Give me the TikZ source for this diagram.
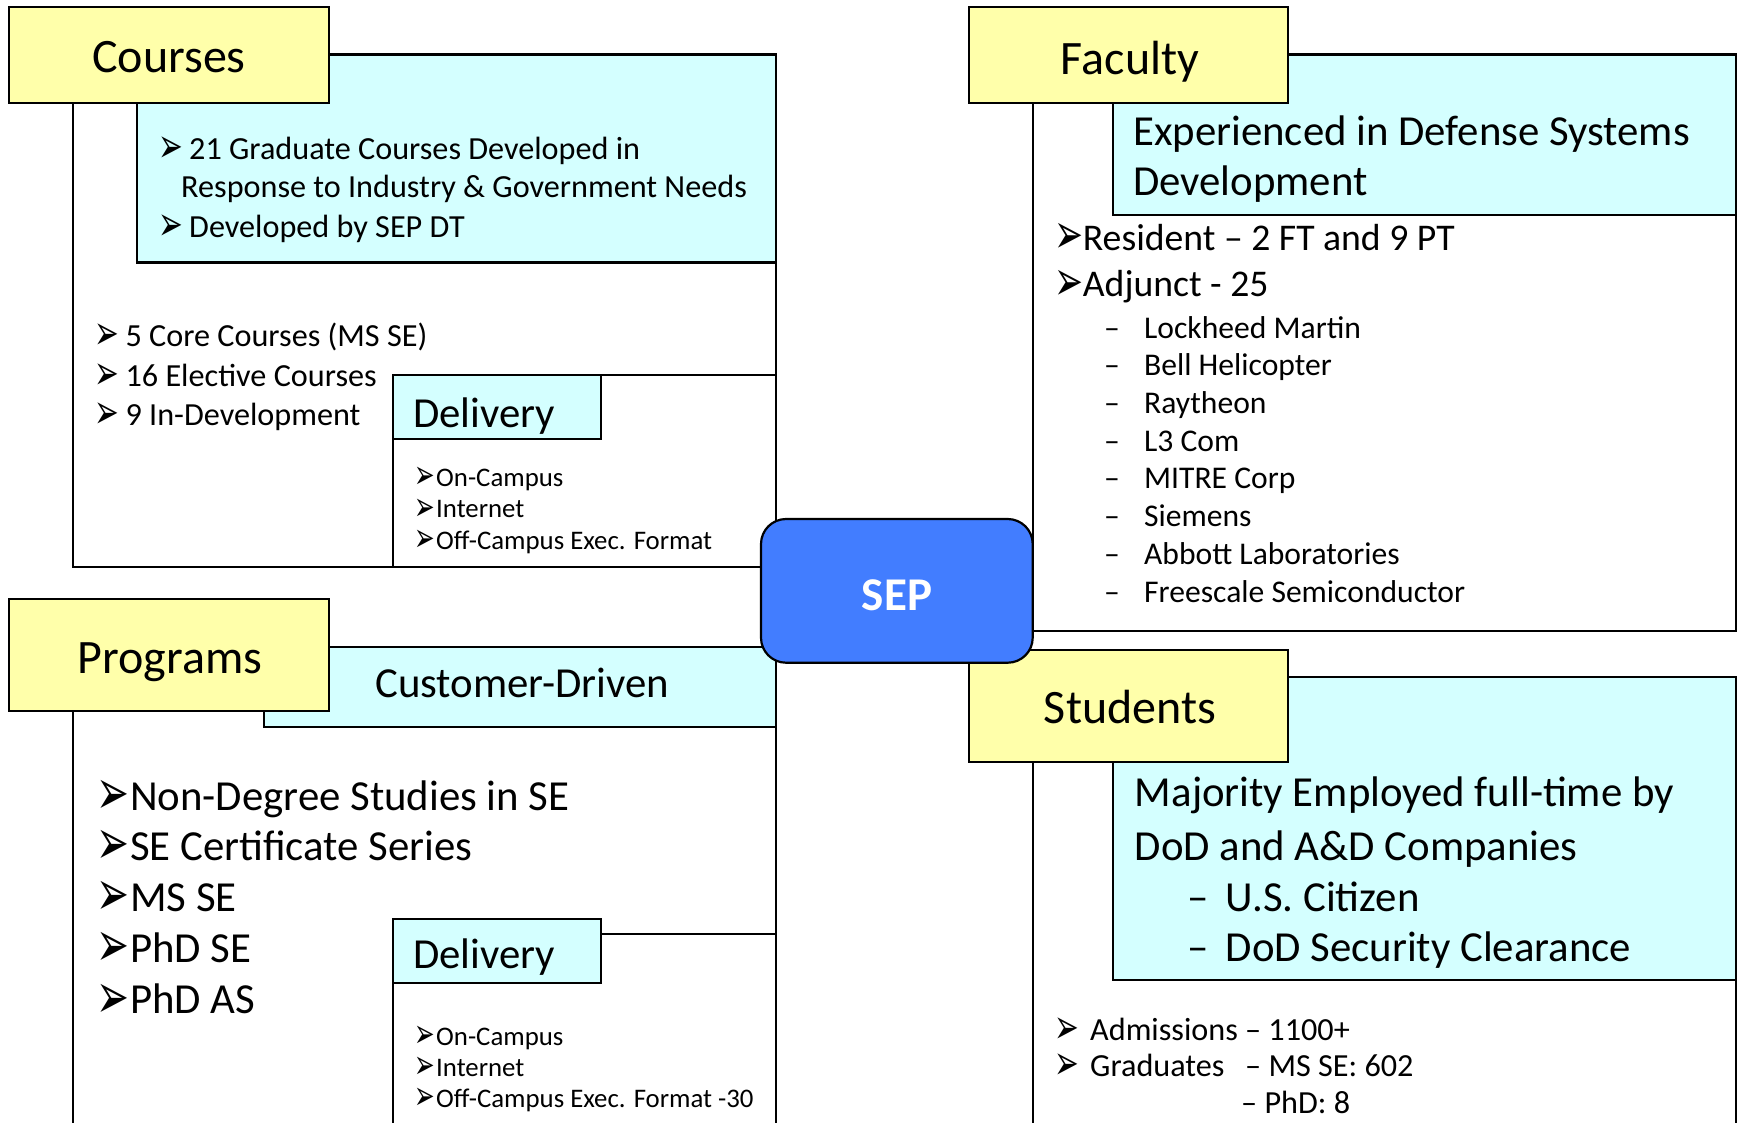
\documentclass[tikz,border=0pt]{standalone}
\usepackage{graphicx}
\usepackage{fontspec}
\setmainfont{Carlito}
\newfontfamily\dingfont{DejaVu Sans}

\definecolor{headYellow}{RGB}{255,255,170}
\definecolor{noteCyan}{RGB}{212,255,255}
\definecolor{sepBlue}{RGB}{66,125,255}

\newcommand{\sizept}[1]{\fontsize{#1}{#1}\selectfont}
\newcommand{\arrowbul}[1]{\makebox[#1][l]{\dingfont\smash{\raisebox{-0.1em}{\scalebox{0.92}[1.5]{➢}}}}}
\newcommand{\dashbul}[1]{\makebox[#1][l]{–}}

\newcommand{\leftFrameX}{73}
\newcommand{\midLeftX}{776}
\newcommand{\midRightX}{1033}
\newcommand{\rightFrameX}{1736}

\begin{document}
\begin{tikzpicture}[x=1pt,y=-1pt,
    framebox/.style={draw=black,fill=white,line width=2.2pt},
    notebox/.style={draw=black,fill=noteCyan,line width=2.2pt},
    headbox/.style={draw=black,fill=headYellow,line width=2.2pt},
    txt/.style={inner sep=0,anchor=base west},
    head/.style={inner sep=0,anchor=base,font=\sizept{48}}]
    \useasboundingbox (0,0) rectangle (1744,1122);
    \clip (0,0) rectangle (1744,1122);

    % courses
    \filldraw[framebox] (\leftFrameX,54.5) rectangle (\midLeftX,567);
    \filldraw[framebox] (393,375) rectangle (\midLeftX,567);
    \filldraw[notebox] (393,375) rectangle (601,439);
    \filldraw[notebox] (137,54.5) rectangle (\midLeftX,262.5);
    \filldraw[headbox] (9,7) rectangle (329,103);
    \node[head] (courses_head) at (169,72.7) {Courses};
    \node[txt,font=\sizept{32.2}] (courses_note1) at (158,159) {\arrowbul{31pt}21 Graduate Courses Developed in};
    \node[txt,font=\sizept{32.2}] (courses_note2) at (181,197) {Response to Industry \& Government Needs};
    \node[txt,font=\sizept{32.2}] (courses_note3) at (158,237) {\arrowbul{31pt}Developed by SEP DT};
    \node[txt,font=\sizept{32.2}] (courses_core) at (94.4,346) {\arrowbul{31pt}5 Core Courses (MS SE)};
    \node[txt,font=\sizept{32.2}] (courses_elect) at (94.4,386.5) {\arrowbul{31pt}16 Elective Courses};
    \node[txt,font=\sizept{32.2}] (courses_indev) at (94.4,425) {\arrowbul{31pt}9 In-Development};
    \node[txt,font=\sizept{42.8}] (courses_deliv) at (413,427) {Delivery};
    \node[txt,font=\sizept{26.8}] (courses_campus) at (414,486) {\arrowbul{22pt}On-Campus};
    \node[txt,font=\sizept{26.8}] (courses_inet) at (414,517.5) {\arrowbul{22pt}Internet};
    \node[txt,font=\sizept{26.8}] (courses_offc) at (414,549) {\arrowbul{22pt}Off-Campus Exec. Format};

    % faculty
    \filldraw[framebox] (\midRightX,54.5) rectangle (\rightFrameX,631);
    \filldraw[notebox] (1113,54.5) rectangle (\rightFrameX,215);
    \filldraw[headbox] (969,7) rectangle (1288,103);
    \node[head] (faculty_head) at (1130,74.6) {Faculty};
    \node[txt,font=\sizept{42.8}] (faculty_note1) at (1133,145) {Experienced in Defense Systems};
    \node[txt,font=\sizept{42.8}] (faculty_note2) at (1133,195) {Development};
    \node[txt,font=\sizept{37.7}] (faculty_res) at (1054,250) {\arrowbul{28.7pt}Resident – 2 FT and 9 PT};
    \node[txt,font=\sizept{37.7}] (faculty_adj) at (1054,296.4) {\arrowbul{28.7pt}Adjunct - 25};
    \node[txt,font=\sizept{31.6}] (adj_lm) at (1104,338) {\dashbul{40pt}Lockheed Martin};
    \node[txt,font=\sizept{31.6}] (adj_bell) at (1104,375.7) {\dashbul{40pt}Bell Helicopter};
    \node[txt,font=\sizept{31.6}] (adj_ray) at (1104,413.4) {\dashbul{40pt}Raytheon};
    \node[txt,font=\sizept{31.6}] (adj_l3) at (1104,451) {\dashbul{40pt}L3 Com};
    \node[txt,font=\sizept{31.6}] (adj_mitre) at (1104,488.8) {\dashbul{40pt}MITRE Corp};
    \node[txt,font=\sizept{31.6}] (adj_siem) at (1104,526.5) {\dashbul{40pt}Siemens};
    \node[txt,font=\sizept{31.6}] (adj_abb) at (1104,564) {\dashbul{40pt}Abbott Laboratories};
    \node[txt,font=\sizept{31.6}] (adj_free) at (1104,602) {\dashbul{40pt}Freescale Semiconductor};

    % programs
    \filldraw[framebox] (\leftFrameX,647) rectangle (\midLeftX,1140);
    \filldraw[framebox] (393,934.3) rectangle (\midLeftX,1140);
    \filldraw[notebox] (393,918.7) rectangle (601,982.7);
    \filldraw[notebox] (264,647) rectangle (\midLeftX,727);
    \filldraw[headbox] (9,599) rectangle (329,711);
    \node[head] (programs_head) at (170,673.3) {Programs};
    \node[txt,font=\sizept{42.8}] (programs_note) at (375,697.5) {Customer-Driven};
    \node[txt,font=\sizept{42.8}] (prog_nondeg) at (96,810) {\arrowbul{34pt}Non-Degree Studies in SE};
    \node[txt,font=\sizept{42.8}] (prog_cert) at (96,860.7) {\arrowbul{34pt}SE Certificate Series};
    \node[txt,font=\sizept{42.8}] (prog_ms) at (96,911) {\arrowbul{34pt}MS SE};
    \node[txt,font=\sizept{42.8}] (prog_phdse) at (96,962) {\arrowbul{34pt}PhD SE};
    \node[txt,font=\sizept{42.8}] (prog_phdas) at (96,1013.8) {\arrowbul{34pt}PhD AS};
    \node[txt,font=\sizept{42.8}] (programs_deliv) at (413,968.9) {Delivery};
    \node[txt,font=\sizept{26.8}] (programs_campus) at (414,1045) {\arrowbul{22pt}On-Campus};
    \node[txt,font=\sizept{26.8}] (programs_inet) at (414,1076) {\arrowbul{22pt}Internet};
    \node[txt,font=\sizept{26.8}] (programs_offc) at (414,1107) {\arrowbul{22pt}Off-Campus Exec. Format -30};

    % students
    \filldraw[framebox] (\midRightX,677) rectangle (\rightFrameX,1140);
    \filldraw[notebox] (1113,677) rectangle (\rightFrameX,980);
    \filldraw[headbox] (969,650) rectangle (1288,762);
    \node[head] (students_head) at (1130,723.5) {Students};
    \node[txt,font=\sizept{42.8}] (students_note1) at (1134.7,806.7) {Majority Employed full-time by};
    \node[txt,font=\sizept{42.8}] (students_note2) at (1134.7,860) {DoD and A\&D Companies};
    \node[txt,font=\sizept{42.8}] (students_us) at (1187,911.7) {\dashbul{38.5pt}U.S. Citizen};
    \node[txt,font=\sizept{42.8}] (students_dod) at (1187,961.7) {\dashbul{38.5pt}DoD Security Clearance};
    \node[txt,font=\sizept{32.2}] (students_adm) at (1054.6,1040) {\arrowbul{35.4pt}Admissions – 1100+};
    \node[txt,font=\sizept{32.2}] (students_grad) at (1054.6,1076.7) {\arrowbul{35.4pt}Graduates};
    \node[txt,font=\sizept{32.2}] (grad_ms) at (1245,1076.7) {– MS SE: 602};
    \node[txt,font=\sizept{32.2}] (grad_phd) at (1241,1113) {– PhD: 8};

    % centre
    \filldraw[draw=black,fill=sepBlue,line width=2.2pt,rounded corners=25pt] (761,519) rectangle (1032.7,662.7);
    \node[inner sep=0,anchor=base,font=\sizept{47}\bfseries,text=white] (sep_text) at (897,610) {SEP};
\end{tikzpicture}
\end{document}
